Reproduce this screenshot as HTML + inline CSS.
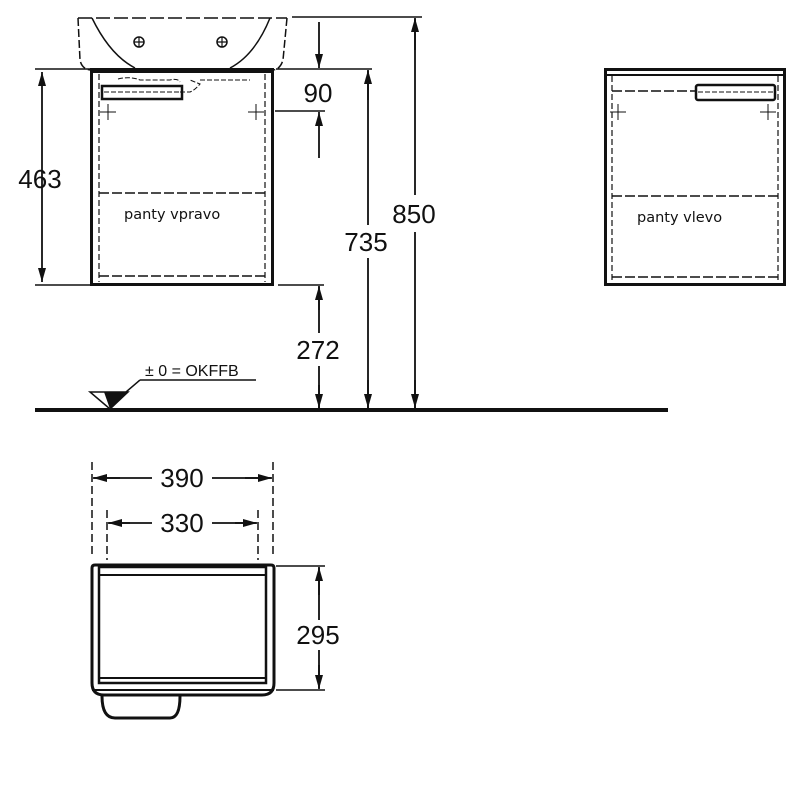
<!DOCTYPE html>
<html><head><meta charset="utf-8"><style>
html,body{margin:0;padding:0;background:#fff;}
svg{display:block;}
text{font-family:"Liberation Sans",sans-serif;fill:#111;}
</style></head><body>
<svg width="800" height="800" viewBox="0 0 800 800" xmlns="http://www.w3.org/2000/svg">
<defs>
<marker id="a" viewBox="0 0 14 8" refX="14" refY="4" markerWidth="14" markerHeight="8" orient="auto-start-reverse" markerUnits="userSpaceOnUse"><path d="M0,0 L14,4 L0,8 z" fill="#111"/></marker>
</defs>
<g stroke="#111" fill="none">
<!-- sink -->
<path d="M78,18 L287,18" stroke-dasharray="14,4" stroke-width="1.5"/>
<path d="M78,18 L80,60 Q82,70 92,70" stroke-width="1.5" stroke-dasharray="8,3"/>
<path d="M287,18 L283,60 Q280,70 272,70" stroke-width="1.5" stroke-dasharray="8,3"/>
<path d="M92,18 Q110,55 135,68" stroke-width="1.5"/>
<path d="M270,18 Q255,55 230,68" stroke-width="1.5"/>
<circle cx="139" cy="42" r="5" stroke-width="1.5"/><path d="M134,42h10M139,37v10" stroke-width="1.2"/>
<circle cx="222" cy="42" r="5" stroke-width="1.5"/><path d="M217,42h10M222,37v10" stroke-width="1.2"/>
<!-- left cabinet -->
<rect x="91.5" y="69.5" width="181" height="215" stroke-width="3"/>
<path d="M91,72h182" stroke-width="2"/>
<path d="M99,74v208M265,74v208" stroke-width="1.2" stroke-dasharray="6,3"/>
<path d="M99,193h166M99,276h166" stroke-width="1.5" stroke-dasharray="10,3"/>
<path d="M118,79 Q130,76 140,80 L170,80 Q178,78 180,82 M180,92h10 Q195,90 200,84 L190,80 M200,80h50" stroke-width="1" stroke-dasharray="5,2"/>
<rect x="102" y="86" width="80" height="13" stroke-width="2.5"/>
<path d="M104,92h76" stroke-width="1" stroke-dasharray="5,2"/>
<path d="M100,112h16M108,104v16M248,112h16M256,104v16" stroke-width="1"/>
<!-- right cabinet -->
<rect x="605.5" y="69.5" width="179" height="215" stroke-width="3"/>
<path d="M605,75h180" stroke-width="2"/>
<path d="M612,76v204M778,76v204" stroke-width="1.2" stroke-dasharray="6,3"/>
<path d="M612,91h83M612,196h166M612,277h166" stroke-width="1.5" stroke-dasharray="10,3"/>
<rect x="696" y="85" width="79" height="15" rx="2" stroke-width="2.5"/>
<path d="M698,92h75" stroke-width="1" stroke-dasharray="5,2"/>
<path d="M610,112h16M618,104v16M760,112h16M768,104v16" stroke-width="1"/>
<!-- dims 463 -->
<path d="M35,69h55M35,285h55" stroke-width="1.5"/>
<path d="M42,72V282" stroke-width="1.8" marker-start="url(#a)" marker-end="url(#a)"/>
<!-- ext lines right -->
<path d="M292,17h130M276,69h96M275,111h50M278,285h46" stroke-width="1.5"/>
<path d="M319,22V68" stroke-width="1.8" marker-end="url(#a)"/>
<path d="M319,158V112" stroke-width="1.8" marker-end="url(#a)"/>
<path d="M368,71V225M368,258V408" stroke-width="1.8"/>
<path d="M368,100V70" stroke-width="1.8" marker-end="url(#a)"/>
<path d="M368,380V408" stroke-width="1.8" marker-end="url(#a)"/>
<path d="M415,19V195M415,232V408" stroke-width="1.8"/>
<path d="M415,50V18" stroke-width="1.8" marker-end="url(#a)"/>
<path d="M415,380V408" stroke-width="1.8" marker-end="url(#a)"/>
<path d="M319,287V333M319,366V408" stroke-width="1.8"/>
<path d="M319,310V286" stroke-width="1.8" marker-end="url(#a)"/>
<path d="M319,385V408" stroke-width="1.8" marker-end="url(#a)"/>
<!-- floor -->
<path d="M35,410H668" stroke-width="4"/>
<!-- OKFFB -->
<path d="M140,380H256M140,380L112,404" stroke-width="1.5"/>
<path d="M90,392H128L110,409z" stroke-width="1.5"/>
<path d="M104,392H128L110,409z" fill="#111" stroke="none"/>
<!-- top view dims -->
<path d="M92,462V555M273,462V555" stroke-width="1.5" stroke-dasharray="8,4"/>
<path d="M107,510V560M258,510V560" stroke-width="1.5" stroke-dasharray="8,4"/>
<path d="M94,478H152M212,478H271" stroke-width="1.8"/>
<path d="M120,478H93" marker-end="url(#a)" stroke-width="1.8"/><path d="M245,478H272" marker-end="url(#a)" stroke-width="1.8"/>
<path d="M109,523H152M212,523H256" stroke-width="1.8"/>
<path d="M130,523H108" marker-end="url(#a)" stroke-width="1.8"/><path d="M235,523H257" marker-end="url(#a)" stroke-width="1.8"/>
<!-- top view box -->
<path d="M95,565H271Q274,565 274,568V683Q274,695 262,695H104Q92,695 92,683V568Q92,565 95,565z" stroke-width="3"/>
<rect x="99" y="567" width="167" height="116" stroke-width="2.5"/>
<path d="M99,575H266M99,678H266M92,690H274" stroke-width="2"/>
<path d="M102,696Q102,718 115,718H170Q180,718 180,696" stroke-width="3"/>
<path d="M276,566H325M276,690H325" stroke-width="1.5"/>
<path d="M319,568V620M319,650V688" stroke-width="1.8"/>
<path d="M319,595V567" marker-end="url(#a)" stroke-width="1.8"/><path d="M319,665V689" marker-end="url(#a)" stroke-width="1.8"/>
</g>
<g font-size="26" text-anchor="middle">
<text x="40" y="188">463</text>
<text x="318" y="102">90</text>
<text x="366" y="251">735</text>
<text x="414" y="223">850</text>
<text x="318" y="359">272</text>
<text x="182" y="487">390</text>
<text x="182" y="532">330</text>
<text x="318" y="644">295</text>
</g>
<text x="145" y="376" font-size="16">± 0 = OKFFB</text>
<text x="124" y="219" font-size="14.5" style="font-family:'DejaVu Sans',sans-serif">panty vpravo</text>
<text x="637" y="222" font-size="14.5" style="font-family:'DejaVu Sans',sans-serif">panty vlevo</text>
</svg>
</body></html>
